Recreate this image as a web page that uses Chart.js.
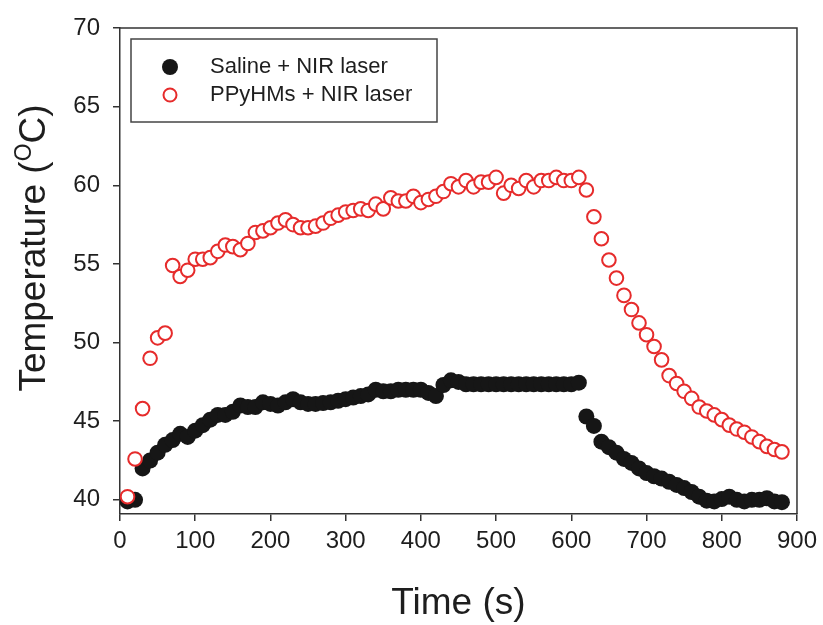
<!DOCTYPE html>
<html>
<head>
<meta charset="utf-8">
<script src="https://cdn.jsdelivr.net/npm/chart.js@4/dist/chart.umd.min.js"></script>
<style>
  html, body { margin: 0; padding: 0; background: #fff; }
  #wrap { width: 823px; height: 625px; }
</style>
</head>
<body>
<div id="wrap"><canvas id="chart" width="823" height="625"></canvas></div>
<script>
// time points (s)
const times = [10, 20, 30, 40, 50, 60, 70, 80, 90, 100,
  110, 120, 130, 140, 150, 160, 170, 180, 190, 200,
  210, 220, 230, 240, 250, 260, 270, 280, 290, 300,
  310, 320, 330, 340, 350, 360, 370, 380, 390, 400,
  410, 420, 430, 440, 450, 460, 470, 480, 490, 500,
  510, 520, 530, 540, 550, 560, 570, 580, 590, 600,
  610, 620, 630, 640, 650, 660, 670, 680, 690, 700,
  710, 720, 730, 740, 750, 760, 770, 780, 790, 800,
  810, 820, 830, 840, 850, 860, 870, 880];

// Saline + NIR laser
const salineTemp = [39.9, 40.0, 42.0, 42.5, 43.0, 43.5, 43.8, 44.2, 44.0, 44.4,
  44.75, 45.1, 45.4, 45.4, 45.6, 46.0, 45.9, 45.9, 46.2, 46.1,
  46.0, 46.2, 46.4, 46.2, 46.1, 46.1, 46.15, 46.2, 46.3, 46.4,
  46.5, 46.6, 46.7, 47.0, 46.9, 46.9, 47.0, 47.0, 47.0, 47.0,
  46.8, 46.6, 47.3, 47.6, 47.5, 47.35, 47.35, 47.35, 47.35, 47.35,
  47.35, 47.35, 47.35, 47.35, 47.35, 47.35, 47.35, 47.35, 47.35, 47.35,
  47.45, 45.3, 44.7, 43.7, 43.35, 43.0, 42.6, 42.35, 42.0, 41.7,
  41.5, 41.35, 41.15, 40.95, 40.75, 40.5, 40.2, 39.95, 39.9, 40.05,
  40.2, 40.0, 39.9, 40.0, 40.0, 40.1, 39.9, 39.85];

// PPyHMs + NIR laser
const ppyTemp = [40.2, 42.6, 45.8, 49.0, 50.3, 50.6, 54.9, 54.2, 54.6, 55.3,
  55.3, 55.4, 55.8, 56.2, 56.1, 55.9, 56.3, 57.0, 57.1, 57.3,
  57.6, 57.8, 57.5, 57.3, 57.3, 57.4, 57.6, 57.9, 58.1, 58.3,
  58.4, 58.5, 58.4, 58.8, 58.5, 59.2, 59.0, 59.0, 59.3, 58.9,
  59.1, 59.3, 59.6, 60.1, 59.9, 60.3, 59.9, 60.2, 60.2, 60.5,
  59.5, 60.0, 59.8, 60.3, 59.9, 60.3, 60.3, 60.5, 60.3, 60.3,
  60.5, 59.7, 58.0, 56.6, 55.25, 54.1, 53.0, 52.1, 51.25, 50.5,
  49.75, 48.9, 47.9, 47.4, 46.9, 46.45, 45.9, 45.65, 45.4, 45.1,
  44.75, 44.5, 44.3, 44.0, 43.7, 43.4, 43.2, 43.05];

const xTicks = [0, 100, 200, 300, 400, 500, 600, 700, 800, 900];
const yTicks = [40, 45, 50, 55, 60, 65, 70];
const seriesNames = ['Saline + NIR laser', 'PPyHMs + NIR laser'];

const RED = '#e62b2b';
const INK = '#161616';
const FONT = '"Liberation Sans", Arial, sans-serif';

const toPoints = ys => times.map((t, i) => ({ x: t, y: ys[i] }));

// frame, legend box and axis titles
const decor = {
  id: 'decor',
  afterDatasetsDraw(chart) {
    const { ctx, chartArea: a } = chart;
    ctx.save();
    ctx.strokeStyle = '#333';
    ctx.lineWidth = 1.5;
    ctx.beginPath();
    ctx.moveTo(a.left, a.top);
    ctx.lineTo(a.right, a.top);
    ctx.lineTo(a.right, a.bottom);
    ctx.stroke();

    // legend
    ctx.lineWidth = 1.5;
    ctx.strokeStyle = '#444';
    ctx.fillStyle = '#fff';
    ctx.fillRect(131, 39, 306, 83);
    ctx.strokeRect(131, 39, 306, 83);
    ctx.beginPath();
    ctx.arc(170, 67, 8, 0, Math.PI * 2);
    ctx.fillStyle = INK;
    ctx.fill();
    ctx.beginPath();
    ctx.arc(170, 95, 6.5, 0, Math.PI * 2);
    ctx.fillStyle = '#fff';
    ctx.fill();
    ctx.lineWidth = 2;
    ctx.strokeStyle = RED;
    ctx.stroke();
    ctx.fillStyle = '#1e1e1e';
    ctx.font = '22px ' + FONT;
    ctx.textAlign = 'left';
    ctx.textBaseline = 'middle';
    ctx.fillText(seriesNames[0], 210, 67);
    ctx.fillText(seriesNames[1], 210, 95);

    // x title
    ctx.font = '37px ' + FONT;
    ctx.textAlign = 'center';
    ctx.fillText('Time (s)', (a.left + a.right) / 2, 604);

    // y title with superscript
    ctx.translate(35, 248);
    ctx.rotate(-Math.PI / 2);
    const big = '37px ' + FONT, small = '23px ' + FONT;
    ctx.font = big;
    const p1 = 'Temperature (', p3 = 'C)';
    const w1 = ctx.measureText(p1).width, w3 = ctx.measureText(p3).width;
    ctx.font = small;
    const w2 = ctx.measureText('O').width;
    let x = -(w1 + w2 + w3) / 2;
    ctx.textAlign = 'left';
    ctx.font = big;
    ctx.fillText(p1, x, 0);
    x += w1;
    ctx.font = small;
    ctx.fillText('O', x, -10);
    x += w2;
    ctx.font = big;
    ctx.fillText(p3, x, 0);
    ctx.restore();
  }
};

new Chart(document.getElementById('chart').getContext('2d'), {
  type: 'scatter',
  data: {
    datasets: [
      { label: seriesNames[0], data: toPoints(salineTemp), order: 1,
        pointRadius: 8, pointHoverRadius: 8, pointBackgroundColor: INK, pointBorderColor: INK, pointBorderWidth: 0 },
      { label: seriesNames[1], data: toPoints(ppyTemp), order: 0,
        pointRadius: 6.8, pointHoverRadius: 6.8, pointBackgroundColor: '#fff', pointBorderColor: RED, pointBorderWidth: 2 }
    ]
  },
  options: {
    responsive: false,
    animation: false,
    layout: { padding: { top: 28, right: 23, left: 0, bottom: 0 } },
    plugins: { legend: { display: false }, tooltip: { enabled: false } },
    scales: {
      x: {
        type: 'linear', min: 0, max: 900,
        afterFit: s => { s.height = 111; },
        afterBuildTicks: s => { s.ticks = xTicks.map(v => ({ value: v })); },
        grid: { drawOnChartArea: false, drawTicks: true, tickLength: 7, color: '#333', lineWidth: 1.5 },
        border: { color: '#333', width: 1.5 },
        ticks: { font: { family: FONT, size: 24 }, color: '#1e1e1e', padding: 6, maxRotation: 0 }
      },
      y: {
        type: 'linear', min: 39.1, max: 70,
        afterFit: s => { s.width = 120; },
        afterBuildTicks: s => { s.ticks = yTicks.map(v => ({ value: v })); },
        grid: { drawOnChartArea: false, drawTicks: true, tickLength: 7, color: '#333', lineWidth: 1.5 },
        border: { color: '#333', width: 1.5 },
        ticks: { font: { family: FONT, size: 24 }, color: '#1e1e1e', padding: 13 }
      }
    }
  },
  plugins: [decor]
});
</script>
</body>
</html>
